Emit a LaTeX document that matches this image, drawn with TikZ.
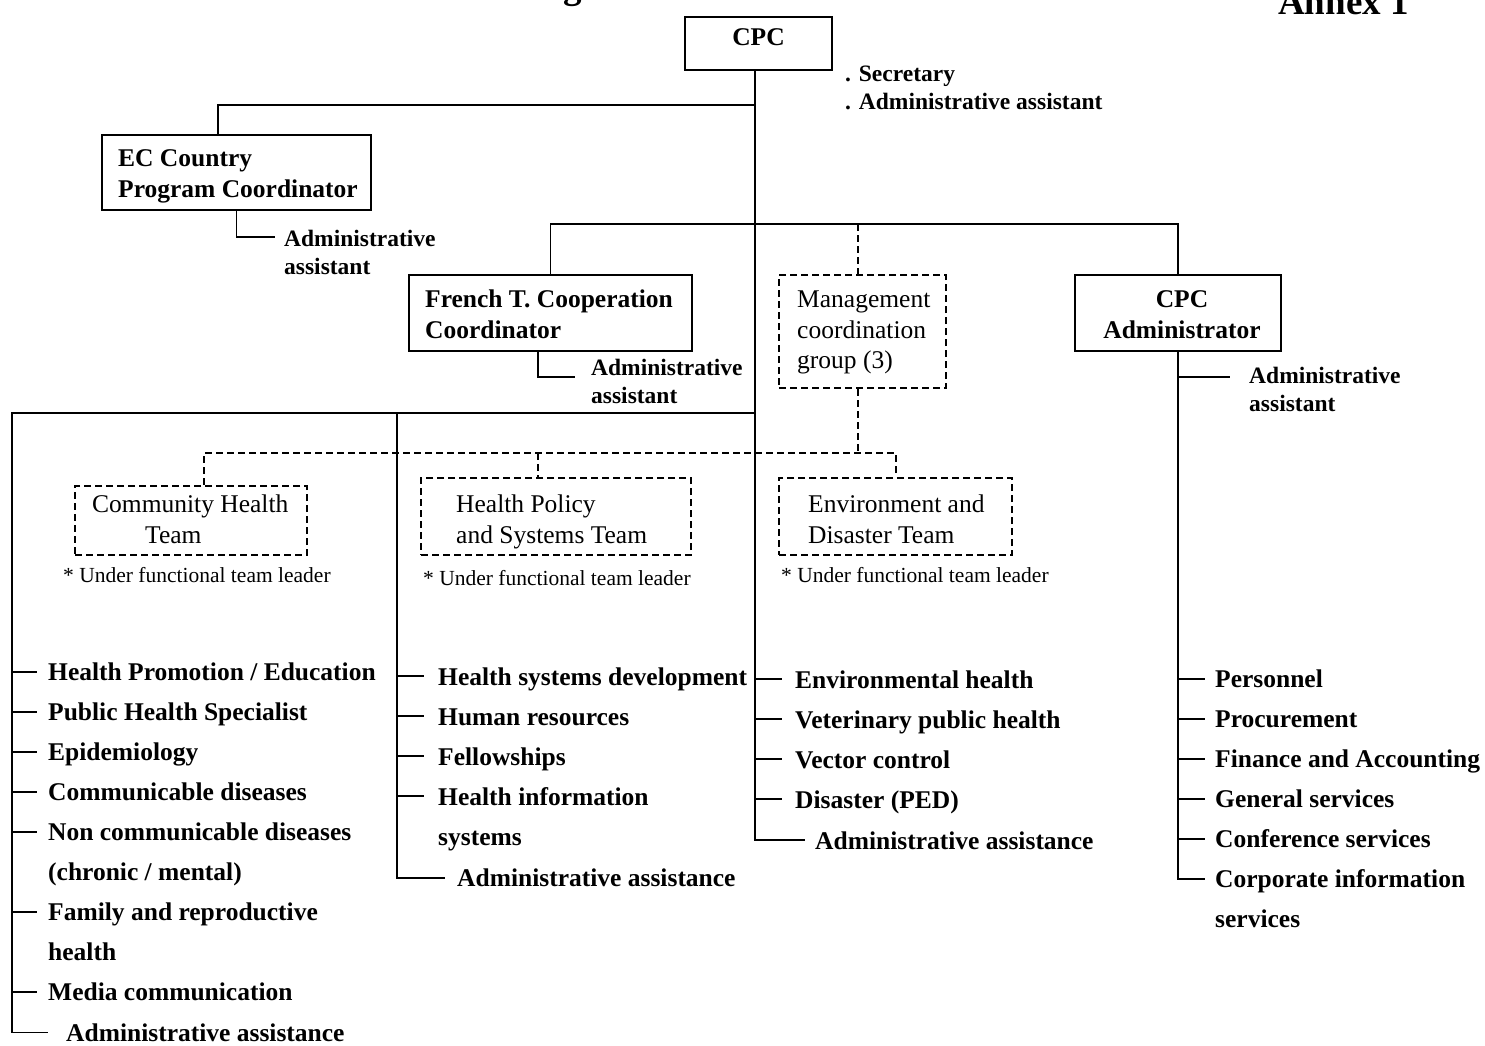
\documentclass[tikz,border=0pt]{standalone}
\usepackage{fontspec}
\setmainfont{Liberation Serif}
\begin{document}
\begin{tikzpicture}[x=1pt,y=-1pt]
\tikzset{
 ln/.style={line width=1.6pt},
 dl/.style={line width=2.6pt, dash pattern=on 7pt off 4pt},
 sbox/.style={draw, line width=1.6pt, inner sep=0pt},
 dbox/.style={draw, line width=2.6pt, dash pattern=on 7pt off 4pt, inner sep=0pt},
 bt/.style={font=\fontsize{25.5}{30}\selectfont\bfseries, inner sep=0pt, anchor=base west},
 mt/.style={font=\fontsize{23.5}{28}\selectfont\bfseries, inner sep=0pt, anchor=base west},
 nt/.style={font=\fontsize{25.5}{30}\selectfont, inner sep=0pt, anchor=base west},
 st/.style={font=\fontsize{21.5}{26}\selectfont, inner sep=0pt, anchor=base west},
 ht/.style={font=\fontsize{37}{44}\selectfont\bfseries, inner sep=0pt, anchor=base west},
}
\useasboundingbox[fill=white] (0,0) rectangle (1485,1045);

% title fragments
\node[ht] (tg) at (563,-2) {g};
\node[ht] (annex) at (1278,14) {Annex 1};

% boxes
\node[sbox, minimum width=147pt, minimum height=53pt] (cpc) at (758.5,43.5) {};
\node[bt, anchor=base] (cpct) at (758.5,45) {CPC};
\node[sbox, minimum width=269pt, minimum height=75pt] (ec) at (236.5,172.5) {};
\node[sbox, minimum width=283pt, minimum height=76pt] (fr) at (550.5,313) {};
\node[dbox, minimum width=167pt, minimum height=113pt] (mg) at (862.5,331.5) {};
\node[sbox, minimum width=206pt, minimum height=76pt] (adm) at (1178,313) {};
\node[dbox, minimum width=232pt, minimum height=69pt] (ch) at (191,520.5) {};
\node[dbox, minimum width=270pt, minimum height=77pt] (hp) at (556,516.5) {};
\node[dbox, minimum width=233pt, minimum height=77pt] (ed) at (895.5,516.5) {};

% box texts
\node[bt] (ect1) at (118,166.5) {EC Country};
\node[bt] (ect2) at (118,197.5) {Program Coordinator};
\node[bt] (frt1) at (425,307.5) {French T. Cooperation};
\node[bt] (frt2) at (425,338.5) {Coordinator};
\node[nt] (mgt1) at (797,307.5) {Management};
\node[nt] (mgt2) at (797,338.5) {coordination};
\node[nt] (mgt3) at (797,368.5) {group (3)};
\node[bt, anchor=base] (admt1) at (1182,307.5) {CPC};
\node[bt, anchor=base] (admt2) at (1182,338.5) {Administrator};
\node[nt] (cht1) at (92,512.5) {Community Health};
\node[nt] (cht2) at (145,543.5) {Team};
\node[nt] (hpt1) at (456,512.5) {Health Policy};
\node[nt] (hpt2) at (456,543.5) {and Systems Team};
\node[nt] (edt1) at (808,512.5) {Environment and};
\node[nt] (edt2) at (808,543.5) {Disaster Team};
\node[st] (chn) at (63,582) {* Under functional team leader};
\node[st] (hpn) at (423,585) {* Under functional team leader};
\node[st] (edn) at (781,582) {* Under functional team leader};

% assistant labels
\node[mt] (sec1) at (845,81) {. Secretary};
\node[mt] (sec2) at (845,109) {. Administrative assistant};
\node[mt] (eca1) at (284,246.5) {Administrative};
\node[mt] (eca2) at (284,274.5) {assistant};
\node[mt] (fra1) at (591,375) {Administrative};
\node[mt] (fra2) at (591,403.5) {assistant};
\node[mt] (ada1) at (1249,383) {Administrative};
\node[mt] (ada2) at (1249,411.5) {assistant};

% coordinates
\coordinate (jEC) at (755,105);
\coordinate (jMid) at (755,224);
\coordinate (jLeft) at (755,413);
\coordinate (tEnd) at (755,840);
\coordinate (lc0) at (12,413);
\coordinate (mc0) at (397,413);
\coordinate (mgx) at (858,224);
\coordinate (dL) at (204,453);
\coordinate (dM) at (538,453);
\coordinate (dR) at (896,453);
\coordinate (ecal) at (275,237);
\coordinate (fral) at (575,377);
\coordinate (adal) at (1230,377);

% left list
\node[bt] (a1) at (48,680.5) {Health Promotion / Education};
\node[bt] (a2) at (48,720.5) {Public Health Specialist};
\node[bt] (a3) at (48,760.5) {Epidemiology};
\node[bt] (a4) at (48,800.5) {Communicable diseases};
\node[bt] (a5) at (48,840.5) {Non communicable diseases};
\node[bt] (a5b) at (48,880.5) {(chronic / mental)};
\node[bt] (a6) at (48,920.5) {Family and reproductive};
\node[bt] (a6b) at (48,960.5) {health};
\node[bt] (a7) at (48,1000.5) {Media communication};
\node[bt] (a8) at (66,1041) {Administrative assistance};
% middle list
\node[bt] (b1) at (438,685.5) {Health systems development};
\node[bt] (b2) at (438,725.5) {Human resources};
\node[bt] (b3) at (438,765.5) {Fellowships};
\node[bt] (b4) at (438,805.5) {Health information};
\node[bt] (b4b) at (438,845.5) {systems};
\node[bt] (b5) at (457,886.5) {Administrative assistance};
% third list
\node[bt] (c1) at (795,688.5) {Environmental health};
\node[bt] (c2) at (795,728.5) {Veterinary public health};
\node[bt] (c3) at (795,768.5) {Vector control};
\node[bt] (c4) at (795,808.5) {Disaster (PED)};
\node[bt] (c5) at (815,849) {Administrative assistance};
% right list
\node[bt] (d1) at (1215,687.5) {Personnel};
\node[bt] (d2) at (1215,727.5) {Procurement};
\node[bt] (d3) at (1215,767.5) {Finance and Accounting};
\node[bt] (d4) at (1215,807.5) {General services};
\node[bt] (d5) at (1215,847.5) {Conference services};
\node[bt] (d6) at (1215,887.5) {Corporate information};
\node[bt] (d6b) at (1215,927.5) {services};

% connectors: top
\draw[ln] (cpc.south -| jEC) -- (tEnd) -- ([xshift=-10pt]c5.base west |- tEnd);
\draw[ln] (jEC) -| ([xshift=-18.5pt]ec.north);
\draw[ln] (ec.south) |- (ecal);
\draw[ln] (fr.north) |- (adm.north |- jMid) -- (adm.north);
\draw[ln] ([xshift=-12.5pt]fr.south) |- (fral);
\draw[dl] (mgx) -- (mgx |- mg.north);
\draw[dl] (mgx |- mg.south) -- (mgx |- dL);
\draw[dl] (ch.north -| dL) -- (dL) -- (dR) -- (ed.north -| dR);
\draw[dl] (dM) -- (dM |- hp.north);

% left structure
\draw[ln] (jLeft) -- (lc0) -- ([yshift=8.5pt]a8.base west -| lc0) -- ([xshift=-18pt,yshift=8.5pt]a8.base west);
\draw[ln] (mc0) -- ([yshift=8.5pt]b5.base west -| mc0) -- ([xshift=-12pt,yshift=8.5pt]b5.base west);
\foreach \n in {a1,a2,a3,a4,a5,a6,a7}
  \draw[ln] ([yshift=8.5pt]\n.base west -| lc0) -- ++(25,0);
\foreach \n in {b1,b2,b3,b4}
  \draw[ln] ([yshift=9.5pt]\n.base west -| mc0) -- ++(27,0);
\foreach \n in {c1,c2,c3,c4}
  \draw[ln] ([yshift=9.5pt]\n.base west -| tEnd) -- ++(27,0);

% right structure
\draw[ln] (adm.south) -- ([yshift=8.5pt]d6.base west -| adm.south) -- ([xshift=-10pt,yshift=8.5pt]d6.base west);
\draw[ln] (adal -| adm.south) -- (adal);
\foreach \n in {d1,d2,d3,d4,d5}
  \draw[ln] ([yshift=8.5pt]\n.base west -| adm.south) -- ++(27,0);
\end{tikzpicture}
\end{document}
